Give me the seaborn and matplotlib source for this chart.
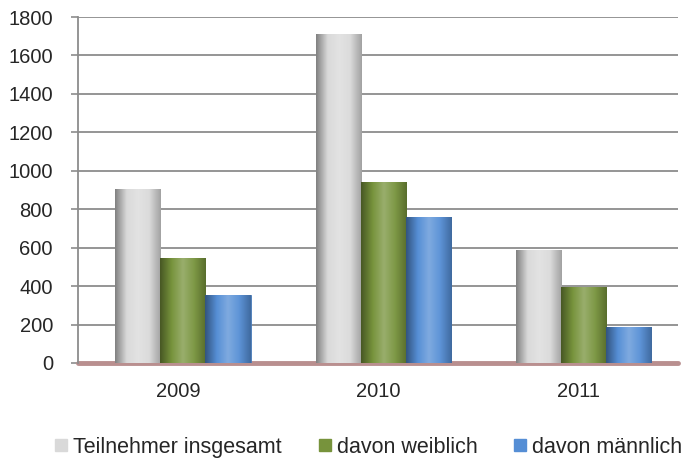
import numpy as np
import pandas as pd
import seaborn as sns
import matplotlib.pyplot as plt
from matplotlib.colors import LinearSegmentedColormap, to_rgb

jahre = ["2009", "2010", "2011"]
gruppen = ["Teilnehmer insgesamt", "davon weiblich", "davon männlich"]
insgesamt = [905, 1710, 590]
weiblich = [545, 940, 395]
maennlich = [355, 760, 185]
farben = ["#d9d9d9", "#77933c", "#558ed5"]

df = pd.DataFrame({
    "Jahr": jahre * 3,
    "Gruppe": np.repeat(gruppen, 3),
    "Anzahl": insgesamt + weiblich + maennlich,
})

sns.set_style("white")
plt.rcParams["font.family"] = ["Liberation Sans", "DejaVu Sans"]

fig = plt.figure(figsize=(6.87, 4.61), dpi=100)
ax = fig.add_axes([0.1135, 0.2126, 0.8735, 0.7504])

sns.barplot(data=df, x="Jahr", y="Anzahl", hue="Gruppe", hue_order=gruppen,
            palette=farben, width=0.675, gap=0, saturation=1, legend=False,
            ax=ax, zorder=3)


def shade(c, f):
    r = np.array(to_rgb(c))
    return tuple(np.clip(r * f, 0, 1)) if f < 1 else tuple(r + (1 - r) * (f - 1))


# cylinder-like shading on every bar
grad = np.linspace(0, 1, 64).reshape(1, -1)
for i, patch in enumerate(ax.patches):
    base = farben[i // 3]
    patch.set_x(patch.get_x() + 0.025)
    cmap = LinearSegmentedColormap.from_list(
        "c", [shade(base, 0.6), shade(base, 1.0), shade(base, 1.25),
              shade(base, 1.05), shade(base, 0.75)])
    x0, y0 = patch.get_x(), patch.get_y()
    w, h = patch.get_width(), patch.get_height()
    im = ax.imshow(grad, cmap=cmap, aspect="auto", extent=[x0, x0 + w, y0, y0 + h],
                   zorder=3.5, interpolation="bilinear")
    im.set_clip_path(patch)
    patch.set_edgecolor(shade(base, 0.85))
    patch.set_linewidth(0.6)

ax.set_xlim(-0.5, 2.5)
ax.set_ylim(0, 1800)
ax.set_yticks(range(0, 1801, 200))
ax.yaxis.grid(True, color="#8c8c8c", linewidth=1.3, zorder=0)
ax.set_axisbelow(True)
ax.axhline(0, color="#b98f8f", linewidth=3.5, zorder=2, clip_on=False)

for s in ["top", "right", "bottom"]:
    ax.spines[s].set_visible(False)
ax.spines["left"].set_color("#8c8c8c")
ax.spines["left"].set_linewidth(1.3)

ax.set_xticks([-0.5, 0.5, 1.5, 2.5], minor=True)
ax.tick_params(axis="x", which="major", length=0, pad=14, labelsize=14.5)
ax.tick_params(axis="x", which="minor", length=7, width=1.2, color="#8c8c8c",
               direction="out")
ax.tick_params(axis="y", length=5, width=1.2, color="#8c8c8c", pad=13,
               labelsize=14.5, left=True)
ax.set_xlabel("")
ax.set_ylabel("")

handles = [plt.Line2D([], [], marker="s", linestyle="", markersize=9,
                      markerfacecolor=c, markeredgecolor=c) for c in farben]
fig.legend(handles, gruppen, loc="center", bbox_to_anchor=(0.535, 0.03), ncol=3,
           frameon=False, fontsize=15.5, handletextpad=0.15, columnspacing=1.6,
           handlelength=0.8)

fig.savefig("out.png", dpi=100)
